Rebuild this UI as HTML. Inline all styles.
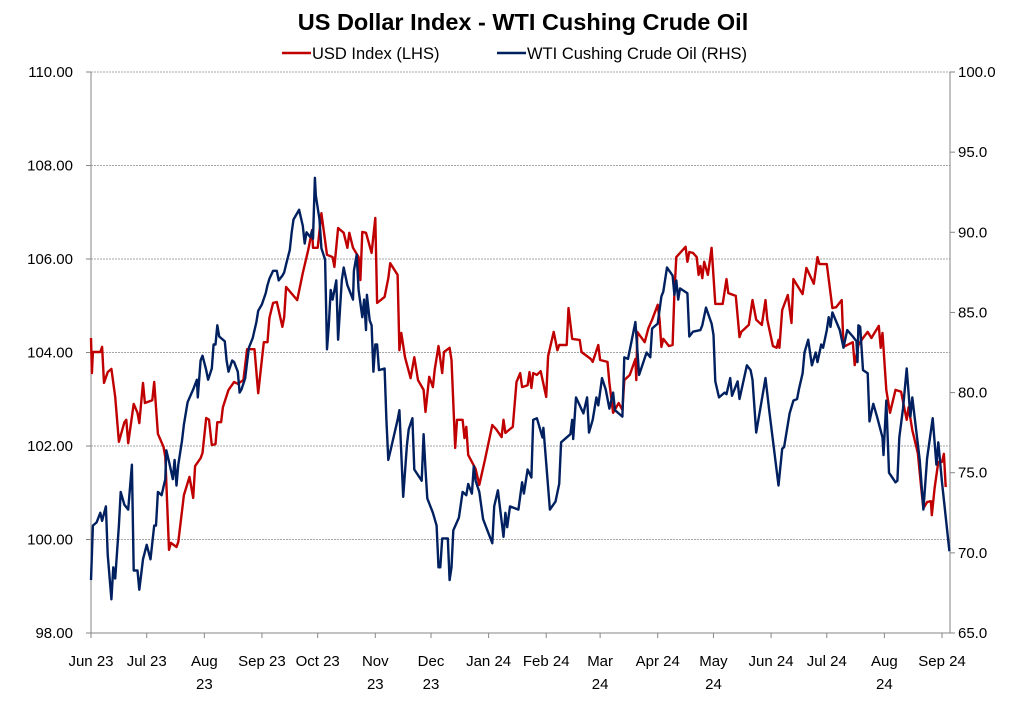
<!DOCTYPE html>
<html><head><meta charset="utf-8"><style>
body{margin:0;background:#fff;font-family:"Liberation Sans",Arial,sans-serif;}
svg text{font-family:"Liberation Sans",Arial,sans-serif;}
</style></head><body>
<svg id="chart" width="1029" height="707" xmlns="http://www.w3.org/2000/svg">
<text x="523" y="30" text-anchor="middle" font-size="23.5" font-weight="bold" fill="#000">US Dollar Index - WTI Cushing Crude Oil</text>
<g>
<line x1="282" y1="53" x2="311" y2="53" stroke="#C00000" stroke-width="2.5"/>
<text x="312" y="59" font-size="16.5" fill="#000">USD Index (LHS)</text>
<line x1="497" y1="53" x2="526" y2="53" stroke="#002060" stroke-width="2.5"/>
<text x="527" y="59" font-size="16.5" fill="#000">WTI Cushing Crude Oil (RHS)</text>
</g>
<g id="grid"></g>
<g id="axes"></g>
<g id="series"></g>
</svg>
<script>
const monthLabels = [["Jun 23"],["Jul 23"],["Aug","23"],["Sep 23"],["Oct 23"],["Nov","23"],["Dec","23"],["Jan 24"],["Feb 24"],["Mar","24"],["Apr 24"],["May","24"],["Jun 24"],["Jul 24"],["Aug","24"],["Sep 24"]];
const monthDays = [0,30,61,92,122,153,183,214,245,274,305,335,366,396,427,458];
const leftTicks = [98,100,102,104,106,108,110];
const rightTicks = [65,70,75,80,85,90,95,100];

const usdDays = [0,0.5,1,5,6,7,9,11,13,15,18,19,20,23,25,26,28,29,33,34,36,39,40,42,43,46,47,50,53,55,56,59,60,62,63.5,65,67,68,70,71,74,77,79,82,84,88,90,93,95,96,98,100,103,104,105,111,114,117,119,119.5,122,124,127,130,131,133,136,138,139,141,144,145,146,148,151,153,154,158,160,161,165,166,167,169,172,174,176,179,180,182,184,185,187,189,190,193,194,196,197,200,201,202,203,205,207,209,212,216,218,221,222,223,227,229,231,232,235,236,237,238,240,242,245,246,249,251,252,256,257,259,263,264,269,270,273,274,278,279,281,284,286,287,290,293,293.5,294,298,300,302,305,306,307,308,311,313,314,315,320,321,322,324,326,327,328,329,330,332,334,336,340,342,343,347,349,350,354,356,358,361,363,364,367,369,370,370.5,372,375,377,378,383,385,389,391,392,396,399,401,404,405,408,410,411,413,415.5,418,420,424,425,426,428,430,433,436,439,440,442,445,447,448,450,452,452.5,454,456,458,459,460];
const usdValues = [104.31,103.56,104.01,104.01,104.12,103.35,103.58,103.65,103.05,102.09,102.51,102.56,102.06,102.90,102.71,102.49,103.35,102.92,102.98,103.37,102.26,101.98,101.77,99.78,99.93,99.84,99.95,100.95,101.34,100.89,101.57,101.74,101.85,102.60,102.56,102.02,102.04,102.51,102.51,102.83,103.20,103.37,103.33,103.41,104.07,104.07,103.13,104.22,104.22,104.74,105.06,105.08,104.55,104.76,105.40,105.12,105.70,106.21,106.62,106.24,106.24,106.98,106.09,106.04,105.83,106.66,106.56,106.24,106.56,106.24,106.04,105.55,106.58,106.56,106.13,106.88,105.06,105.19,105.59,105.91,105.66,104.05,104.42,103.90,103.45,103.90,103.41,103.20,102.73,103.48,103.26,103.63,104.14,103.56,104.01,104.10,103.84,101.96,102.56,102.56,102.17,102.41,101.81,101.66,101.51,101.17,101.70,102.45,102.36,102.19,102.56,102.28,102.41,103.37,103.56,103.26,103.30,103.58,103.24,103.56,103.52,103.60,103.05,103.92,104.44,104.05,104.16,104.16,104.95,104.29,104.27,104.01,103.86,103.80,104.16,103.84,103.80,103.35,102.71,102.92,102.77,103.41,103.52,103.86,103.41,104.44,104.22,104.52,104.70,105.02,104.70,104.12,104.29,104.14,104.16,105.27,106.04,106.26,105.94,106.15,106.13,106.04,105.66,105.85,105.59,105.94,105.66,106.24,105.04,105.04,105.57,105.27,105.21,104.33,104.44,104.59,105.12,104.70,104.59,105.12,104.70,104.14,104.10,104.27,104.10,104.91,105.23,104.63,105.57,105.25,105.81,105.47,106.04,105.89,105.89,104.95,104.97,105.12,104.12,104.18,104.22,103.73,104.16,104.31,104.44,104.31,104.57,104.10,104.42,103.20,102.71,103.20,103.16,102.56,102.83,102.34,101.85,101.02,100.67,100.80,100.82,100.52,101.10,101.66,101.66,101.83,101.12];

const wtiDays = [0,1,3,5,6,8,9,11,12,13,15,16,18,20,22,23,25,26,28,30,32,34,35,36,38,40,40.5,42,44,45,46,47,49,50,52,55,57,57.5,59,60,62,63,65,66,67,68,69,72,73,74,76,77,79,80,81,83,84,85,87,89,90,92,94,95,96,98,100,101,103,104,105,107,108,109,111,112,114,115,116,118,119,119.5,120.5,121,123,124,126,127,128,129,130,132,133,134,135,136,138,139,141,141.5,143,144,146,147,148,148.5,150,151,152,153,154,155,158,159,160,161,165,166,168,170,171,173,174,178,179,180,181,184,186,187,188,189,192,193,194,195,198,200,202,203,205,206,207,209,211,216,217,219,222,223,224,225.5,230,232,233,235,237,238,240,243,243.5,247,250,252,253,258,259,259.5,261,265,267,268,270,272,273,275,277,279,281,282,286,287,289,293,295,299,301,302,305,307,308,310,313,314,315,316,317,321,322,324,328,329,331,334,335,336,338,341,342,344,345,348,349,353,355,356,358,363,365,370,372,373,376,378,380,381,383,384,386,388,390,391,393,394,396,397,398,399,403,405,407,410,412,412.5,413,414,415.5,418,419,421,423,426,426.5,428,429.5,433,434,435,437,439,441,442,446,448,450,453,455,456,458,462];
const wtiValues = [68.3,71.7,71.9,72.5,72.0,72.9,69.9,67.1,69.1,68.4,71.7,73.8,73.0,72.7,75.5,68.9,68.9,67.7,69.6,70.5,69.6,71.7,71.7,73.8,73.6,74.6,76.4,75.7,74.6,75.8,74.2,75.5,77.0,78.0,79.4,80.2,80.8,79.7,82.0,82.3,81.4,80.8,81.5,83.0,83.0,84.2,83.5,83.2,82.0,81.3,82.0,81.9,81.3,80.0,80.2,80.9,81.9,82.8,83.4,84.4,85.1,85.5,86.2,86.7,87.1,87.6,87.6,87.0,87.3,87.5,88.0,88.9,90.0,90.8,91.2,91.4,90.4,89.3,90.0,89.7,90.1,89.6,93.4,92.3,90.8,89.0,88.3,82.7,84.2,86.4,85.8,87.0,83.3,85.2,87.0,87.8,86.7,86.4,85.8,87.6,88.6,86.4,84.7,85.8,83.9,86.1,84.5,84.2,81.3,83.0,83.0,81.4,81.5,78.3,75.8,76.3,78.3,78.9,73.5,76.7,77.7,78.4,75.2,74.5,77.4,75.2,73.4,72.5,71.7,69.1,69.1,70.9,70.9,68.3,69.1,71.4,72.2,73.8,73.6,74.3,73.7,75.4,74.5,73.8,72.1,70.6,72.9,73.9,71.0,72.5,71.6,72.9,72.7,74.4,73.7,75.2,74.7,78.3,78.4,77.2,77.8,72.7,73.2,74.3,76.9,77.4,78.3,77.1,79.7,78.7,79.7,77.5,78.3,79.7,79.2,80.9,80.2,79.0,80.0,78.9,78.5,82.2,82.1,84.4,81.1,82.5,82.2,84.0,84.3,86.0,86.3,87.8,87.3,86.1,87.0,85.8,86.5,86.2,83.5,83.8,83.9,84.2,85.3,84.3,83.6,80.7,79.7,80.0,79.9,80.9,79.8,80.7,79.6,81.7,81.4,80.8,77.5,80.9,78.9,74.2,76.5,76.6,78.7,79.5,79.6,80.2,81.2,82.5,83.3,81.7,82.5,81.9,83.0,82.8,83.9,84.7,84.1,85.0,83.9,82.8,83.9,83.5,83.2,81.9,84.2,84.1,81.4,81.2,78.2,79.3,78.5,77.2,76.1,79.5,75.0,74.4,74.5,77.2,79.0,81.5,78.5,79.7,75.8,72.7,75.9,78.4,75.5,76.9,74.4,70.1];

const NS="http://www.w3.org/2000/svg";
const L=91,R=950,T=72,B=633;
const xOf=d=>L+d*(942-L)/458;
const yL=v=>B-(v-98)/(110-98)*(B-T);
const yR=v=>B-(v-65)/(100-65)*(B-T);
function mk(tag,attrs,parent){const e=document.createElementNS(NS,tag);for(const k in attrs)e.setAttribute(k,attrs[k]);parent.appendChild(e);return e;}
const grid=document.getElementById('grid'),axes=document.getElementById('axes'),series=document.getElementById('series');
leftTicks.forEach(v=>{
  const y=yL(v);
  if(v>98){const g=mk('line',{x1:L,y1:y,x2:R,y2:y,stroke:'#a6a6a6','stroke-width':1,'stroke-dasharray':'2,1'},grid);
  
  }
  const tk=mk('line',{x1:L-5,y1:y,x2:L,y2:y,stroke:'#868686'},axes);
  
  
  const t=mk('text',{x:73,y:y+5,'text-anchor':'end','font-size':15,fill:'#000'},axes);t.textContent=v.toFixed(2);
  
  
});
rightTicks.forEach(v=>{
  const y=yR(v);
  const tk=mk('line',{x1:R,y1:y,x2:R+5,y2:y,stroke:'#868686'},axes);
  
  
  const t=mk('text',{x:958,y:y+5,'font-size':15,fill:'#000'},axes);t.textContent=v.toFixed(1);
  
  
});
const la=mk('line',{x1:L,y1:T,x2:L,y2:B,stroke:'#868686'},axes);


const ra=mk('line',{x1:R,y1:T,x2:R,y2:B,stroke:'#868686'},axes);


const ba=mk('line',{x1:L,y1:B,x2:R,y2:B,stroke:'#868686'},axes);


monthDays.forEach((d,i)=>{
  const x=xOf(d);
  const tk=mk('line',{x1:x,y1:B,x2:x,y2:B+5,stroke:'#868686'},axes);
  
  
  monthLabels[i].forEach((s,j)=>{
    const t=mk('text',{x:x,y:666+j*23,'text-anchor':'middle','font-size':15,fill:'#000'},axes);t.textContent=s;
    
    
  });
});
function line(days,vals,yf,color,name){
  const p=mk('polyline',{points:days.map((d,i)=>xOf(d).toFixed(1)+','+yf(vals[i]).toFixed(1)).join(' '),fill:'none',stroke:color,'stroke-width':2.4,'stroke-linejoin':'round'},series);
  
  
}
line(usdDays,usdValues,yL,'#C00000','usd-index-line');
line(wtiDays,wtiValues,yR,'#002060','wti-crude-line');
</script>
</body></html>
